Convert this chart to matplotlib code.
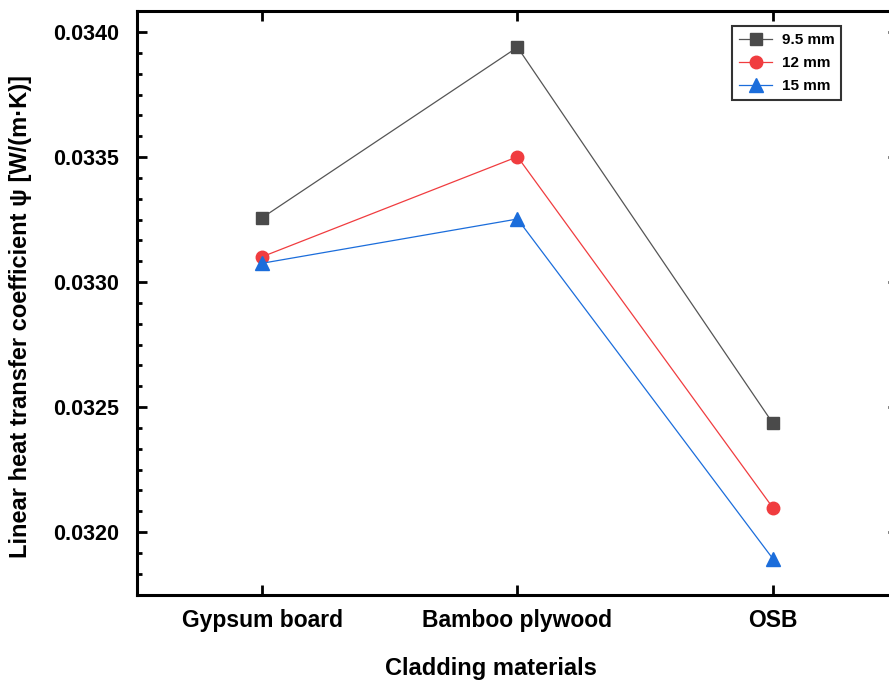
import matplotlib.pyplot as plt
from matplotlib.ticker import MultipleLocator, AutoMinorLocator

plt.rcParams['font.family'] = ['Liberation Sans', 'DejaVu Sans']
plt.rcParams['font.weight'] = 'bold'

materials = ["Gypsum board", "Bamboo plywood", "OSB"]
psi_9_5mm = [0.033257, 0.033939, 0.032435]
psi_12mm = [0.033101, 0.033501, 0.032097]
psi_15mm = [0.033075, 0.033252, 0.031893]

series = [
    ("9.5 mm", psi_9_5mm, "s", "#4a4a4a", "#555555"),
    ("12 mm", psi_12mm, "o", "#f03c3f", "#f03c3f"),
    ("15 mm", psi_15mm, "^", "#1b6ddb", "#1b6ddb"),
]

fig = plt.figure(figsize=(8.89, 6.83), dpi=100)
# right spine sits just past the figure edge
ax = fig.add_axes([137 / 889, 1 - 595 / 683, 761 / 889, 584.5 / 683])

x = list(range(len(materials)))
for label, vals, marker, mcolor, lcolor in series:
    ax.plot(x, vals, color=lcolor, linewidth=0.9, marker=marker,
            markersize=9 if marker != "^" else 10,
            markerfacecolor=mcolor, markeredgecolor=mcolor, label=label)

ax.set_xlim(-0.49, 2.49)
ax.set_ylim(0.031748, 0.034086)
ax.set_xticks(x)
ax.set_xticklabels(materials)
ax.yaxis.set_major_locator(MultipleLocator(0.0005))
ax.yaxis.set_minor_locator(AutoMinorLocator(6))
ax.yaxis.set_major_formatter(plt.FormatStrFormatter('%.4f'))

for s in ax.spines.values():
    s.set_linewidth(2.2)
ax.tick_params(which='major', direction='in', length=7.5, width=2,
               top=True, right=True)
ax.tick_params(axis='y', which='major', labelsize=15.5, pad=13)
ax.tick_params(axis='x', which='major', labelsize=16.5, pad=10)
ax.tick_params(which='minor', direction='in', length=3.8, width=2,
               right=True)
ax.tick_params(axis='x', which='minor', bottom=False, top=False)
for t in ax.get_xticklabels() + ax.get_yticklabels():
    t.set_fontweight('bold')

ax.set_xlabel("Cladding materials", fontsize=17, fontweight='bold')
ax.xaxis.set_label_coords((491 - 137) / 761, -(657 - 595) / 584.5)
ax.set_ylabel("Linear heat transfer coefficient ψ [W/(m·K)]",
              fontsize=17, fontweight='bold')
ax.yaxis.set_label_coords(-(137 - 32) / 761, (595 - 316) / 584.5)

leg = ax.legend(loc='upper left', bbox_to_anchor=((732 - 137) / 761, (595 - 26) / 584.5),
                fontsize=11, frameon=True, fancybox=False, edgecolor='black',
                handlelength=2.2, borderpad=0.45, labelspacing=0.6,
                handletextpad=0.6, borderaxespad=0)
leg.get_frame().set_linewidth(1.5)
for t in leg.get_texts():
    t.set_fontweight('bold')

fig.savefig("out.png", dpi=100)
